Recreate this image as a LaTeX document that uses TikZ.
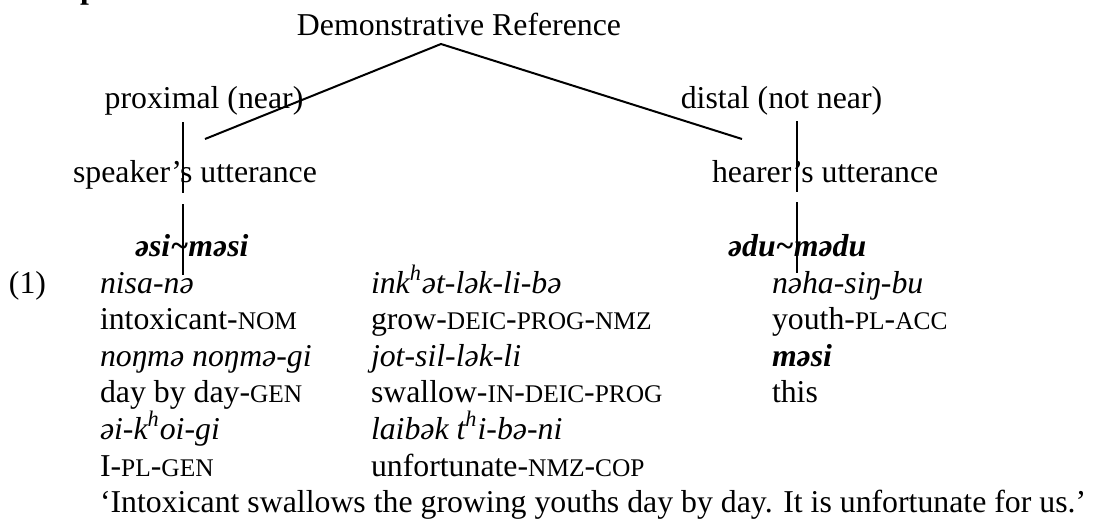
\documentclass[tikz,border=0pt]{standalone}
\usepackage{fontspec}
\setmainfont{Liberation Serif}
\newcommand\smc[1]{{\fontsize{12.7pt}{14pt}\selectfont #1}}
\newcommand\tld{\textasciitilde}
\begin{document}
\begin{tikzpicture}[x=0.5pt,y=-0.5pt,
  txt/.style={inner sep=0pt, outer sep=0pt, font=\fontsize{15.9pt}{18pt}\selectfont},
  lft/.style={txt, anchor=base west},
  ctr/.style={txt, anchor=base},
  link/.style={line width=1pt}]
\useasboundingbox (0,0) rectangle (1094,521);
% heading fragment (cut off at the top edge)
\node[lft] (hd) at (80,-2) {\textbf{p}};
% tree
\node[ctr] (root) at (459,35) {Demonstrative Reference};
\node[ctr] (prox) at (204,108) {proximal (near)};
\node[ctr] (dist) at (781.5,108) {distal (not near)};
\node[lft] (spk) at (73,182) {speaker’s utterance};
\node[lft] (hear) at (712,182) {hearer’s utterance};
\node[lft] (asi) at (135,256) {\textbf{\textit{əsi\tld məsi}}};
\node[lft] (adu) at (728,256) {\textbf{\textit{ədu\tld mədu}}};
\coordinate (apex) at (441,44);
\coordinate (lend) at (205,139);
\coordinate (rend) at (742,139);
\draw[link] (lend) -- (apex) -- (rend);
\coordinate (la1) at (183.3,122); \coordinate (lb1) at (183.3,193);
\coordinate (la2) at (183.3,204); \coordinate (lb2) at (183.3,275);
\coordinate (ra1) at (797,121); \coordinate (rb1) at (797,192);
\coordinate (ra2) at (797,202); \coordinate (rb2) at (797,273);
\draw[link] (la1) -- (lb1);
\draw[link] (la2) -- (lb2);
\draw[link] (ra1) -- (rb1);
\draw[link] (ra2) -- (rb2);
% gloss
\node[lft] (ex) at (9,293) {(1)};
\node[lft] (a1) at (100,293) {\textit{nisa-nə}};
\node[lft] (b1) at (371,293) {\textit{ink\textsuperscript{h}ət-lək-li-bə}};
\node[lft] (c1) at (772,293) {\textit{nəha-siŋ-bu}};
\node[lft] (a2) at (100,329.6) {intoxicant-\smc{NOM}};
\node[lft] (b2) at (371,329.6) {grow-\smc{DEIC}-\smc{PROG}-\smc{NMZ}};
\node[lft] (c2) at (772,329.6) {youth-\smc{PL}-\smc{ACC}};
\node[lft] (a3) at (100,366.2) {\textit{noŋmə noŋmə-gi}};
\node[lft] (b3) at (371,366.2) {\textit{jot-sil-lək-li}};
\node[lft] (c3) at (772,366.2) {\textbf{\textit{məsi}}};
\node[lft] (a4) at (100,402.8) {day by day-\smc{GEN}};
\node[lft] (b4) at (371,402.8) {swallow-\smc{IN}-\smc{DEIC}-\smc{PROG}};
\node[lft] (c4) at (772,402.8) {this};
\node[lft] (a5) at (100,439.4) {\textit{əi-k\textsuperscript{h}oi-gi}};
\node[lft] (b5) at (371,439.4) {\textit{laibək t\textsuperscript{h}i-bə-ni}};
\node[lft] (a6) at (100,476) {I-\smc{PL}-\smc{GEN}};
\node[lft] (b6) at (371,476) {unfortunate-\smc{NMZ}-\smc{COP}};
\node[lft] (tr) at (100,512.6) {‘Intoxicant swallows the growing youths day by day. It is unfortunate for us.’};
\end{tikzpicture}
\end{document}
